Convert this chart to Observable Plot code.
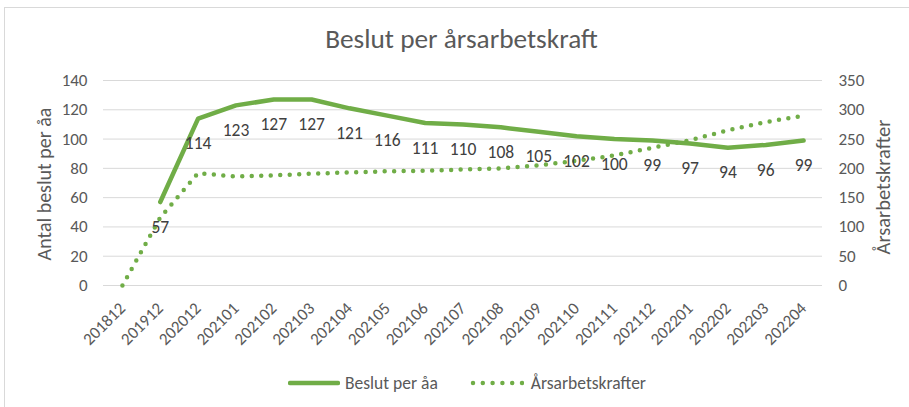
<!DOCTYPE html>
<html><head><meta charset="utf-8">
<script src="https://cdn.jsdelivr.net/npm/d3@7"></script>
<script src="https://cdn.jsdelivr.net/npm/@observablehq/plot@0.6"></script>
<style>
body{margin:0;background:#fff;font-family:Carlito,Calibri,Lato,sans-serif;}
#wrap{position:relative;width:909px;height:407px;overflow:hidden;background:#fff;}
#frame{position:absolute;left:4px;top:7px;width:1000px;height:500px;border:1px solid #d9d9d9;box-sizing:border-box;}
#title{position:absolute;top:22px;left:0;width:923px;text-align:center;font-size:27.3px;color:#595959;line-height:normal;white-space:nowrap;}
#chart{position:absolute;left:0;top:0;}
#legend{position:absolute;left:288px;top:372px;display:flex;align-items:center;font-size:17.5px;color:#595959;line-height:normal;white-space:nowrap;}
#legend svg{display:block;}
</style>
</head><body>
<div id="wrap">
  <div id="frame"></div>
  <div id="chart"></div>
  <div id="title">Beslut per årsarbetskraft</div>
  <div id="legend"></div>
</div>
<script>
const categories = ["201812","201912","202012","202101","202102","202103","202104","202105","202106","202107","202108","202109","202110","202111","202112","202201","202202","202203","202204"];
const beslutPerAa = [null,57,114,123,127,127,121,116,111,110,108,105,102,100,99,97,94,96,99];
const arsarbetskrafter = [0,116,192,186,188,191,193,195,196,198,200,205,213,222,235,248,265,279,290];
const leftTicks = [0,20,40,60,80,100,120,140];
const rightTicks = [0,50,100,150,200,250,300,350];
const seriesNames = ["Beslut per åa","Årsarbetskrafter"];
const axisTitles = ["Antal beslut per åa","Årsarbetskrafter"];

const green = "#70ad47";
const leftMax = leftTicks[leftTicks.length-1];
const rightMax = rightTicks[rightTicks.length-1];
const toLeft = v => v * leftMax / rightMax;

const data = categories.map((c,i) => ({c, b: beslutPerAa[i], a: arsarbetskrafter[i]}));

const chart = Plot.plot({
  width: 909,
  height: 407,
  marginLeft: 103,
  marginRight: 87,
  marginTop: 80,
  marginBottom: 122,
  style: {background:"transparent", color:"#595959", fontFamily:"Carlito,Calibri,Lato,sans-serif", overflow:"visible"},
  x: {type:"point", domain: categories, padding: 0.5, round: false},
  y: {domain: [0, leftMax]},
  marks: [
    Plot.gridY(leftTicks, {stroke:"#d9d9d9", strokeOpacity:1, strokeWidth:1}),
    Plot.axisY(leftTicks, {anchor:"left", tickSize:0, tickPadding:16, label:null, fontSize:17}),
    Plot.axisY(rightTicks.map(toLeft), {anchor:"right", tickSize:0, tickPadding:16, label:null, fontSize:17, tickFormat: d => String(Math.round(d*rightMax/leftMax))}),
    Plot.axisX({tickRotate:-45, tickSize:0, tickPadding:20, label:null, fontSize:17}),
    Plot.text([axisTitles[0]], {frameAnchor:"left", textAnchor:"middle", rotate:-90, dx:-59, dy:1, fontSize:20, fill:"#595959"}),
    Plot.text([axisTitles[1]], {frameAnchor:"right", textAnchor:"middle", rotate:-90, dx:61, dy:4, fontSize:20.5, fill:"#595959"}),
    Plot.line(data, {x:"c", y: d => toLeft(d.a), stroke:green, strokeWidth:4.5, strokeDasharray:"0 9.5", strokeLinecap:"round"}),
    Plot.line(data, {x:"c", y:"b", stroke:green, strokeWidth:4.5, strokeLinecap:"round", strokeLinejoin:"round"}),
    Plot.text(data.filter(d => d.b != null), {x:"c", y:"b", text: d => String(d.b), dy:25, fontSize:17.5, fill:"#404040"})
  ]
});
document.getElementById("chart").appendChild(chart);

const lg = document.getElementById("legend");
lg.innerHTML =
  `<svg width="52" height="10"><line x1="2" x2="50" y1="5" y2="5" stroke="${green}" stroke-width="4.5" stroke-linecap="round"/></svg>` +
  `<span style="margin-left:5px">${seriesNames[0]}</span>` +
  `<svg width="54" height="10" style="margin-left:32px"><line x1="3" x2="54" y1="5" y2="5" stroke="${green}" stroke-width="4.5" stroke-dasharray="0 9.8" stroke-linecap="round"/></svg>` +
  `<span style="margin-left:7px">${seriesNames[1]}</span>`;
</script>
</body></html>
